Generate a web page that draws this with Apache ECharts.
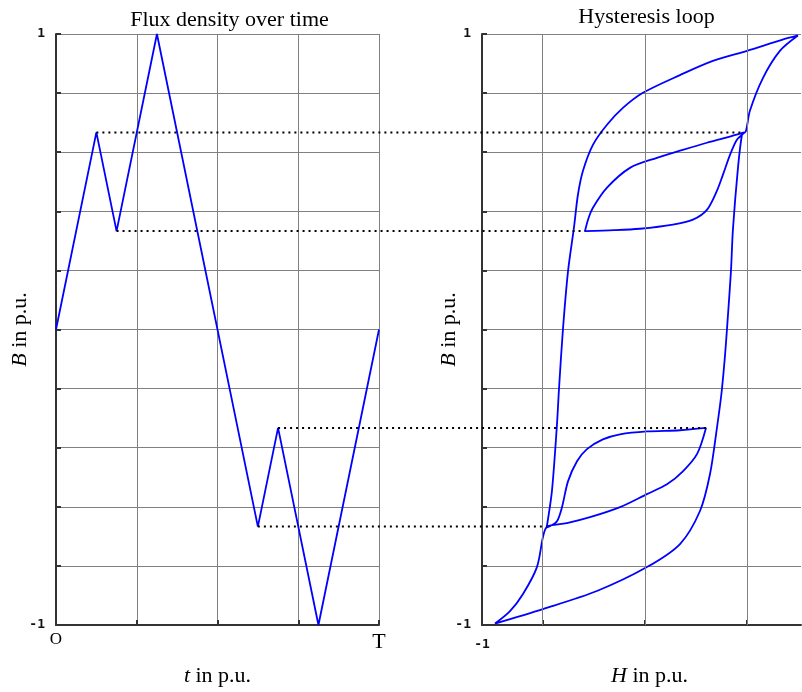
<!DOCTYPE html>
<html>
<head>
<meta charset="utf-8">
<script src="https://cdn.jsdelivr.net/npm/echarts@6/dist/echarts.min.js"></script>
<style>
  html, body { margin: 0; padding: 0; background: #fff; }
  #chart { width: 802px; height: 692px; }
</style>
</head>
<body>
<div id="chart"></div>
<script>
// flux density over time (t in p.u. of period T)
const tVals = [0, 0.125, 0.1875, 0.3125, 0.625, 0.6875, 0.8125, 1];
const bVals = [0, 0.667, 0.333, 1, -0.667, -0.333, -1, 0];

// hysteresis path, in the order the field is traversed
const hVals = [
    0.536, 0.562, 0.575, 0.608, 0.634, 0.647,
    0.536, 0.405, 0.229, 0.078, -0.098, -0.248, -0.340, -0.370, -0.392,
    -0.200, -0.033, 0.183, 0.314, 0.405, 0.471, 0.510, 0.556, 0.601, 0.641, 0.660,
    0.686, 0.771, 0.882, 1.000,
    0.895, 0.667, 0.444, 0.229, -0.013, -0.144, -0.248, -0.340, -0.405, -0.438, -0.464,
    -0.503, -0.536, -0.562, -0.575, -0.608, -0.641,
    -0.608, -0.510, -0.359, -0.163, 0.013, 0.144, 0.248, 0.340, 0.399,
    0.229, 0.013, -0.163, -0.275, -0.379, -0.444, -0.503, -0.542, -0.575, -0.621, -0.647,
    -0.667, -0.706, -0.797, -0.882, -0.980,
    -0.667, -0.314, 0.013, 0.229, 0.359, 0.425, 0.471, 0.503, 0.536
];
const hbVals = [
    0, 0.196, 0.338, 0.547, 0.659, 0.667,
    0.650, 0.632, 0.605, 0.581, 0.547, 0.480, 0.412, 0.375, 0.333,
    0.336, 0.341, 0.355, 0.372, 0.405, 0.470, 0.524, 0.591, 0.642, 0.662, 0.672,
    0.740, 0.851, 0.943, 0.995,
    0.980, 0.943, 0.909, 0.861, 0.801, 0.750, 0.693, 0.625, 0.537, 0.456, 0.345,
    0.196, 0, -0.203, -0.321, -0.547, -0.666,
    -0.662, -0.655, -0.635, -0.601, -0.557, -0.524, -0.480, -0.422, -0.333,
    -0.341, -0.345, -0.355, -0.372, -0.405, -0.446, -0.514, -0.601, -0.649, -0.666, -0.672,
    -0.703, -0.804, -0.895, -0.953, -0.995,
    -0.946, -0.885, -0.804, -0.726, -0.615, -0.490, -0.331, -0.203, 0
];

// reversal points joined by dotted lines: [t, H, B]
const linkT = [0.125, 0.1875, 0.6875, 0.625];
const linkH = [0.647, -0.392, 0.399, -0.641];
const linkB = [0.667, 0.333, -0.333, -0.667];

const hGrid = [-2 / 3, 0, 2 / 3];
const hMin = -1.065;
const hMax = 1.02;

const serif = 'Liberation Serif';
const tickFont = 'DejaVu Sans Mono';
const gridColor = '#808080';
const axisColor = '#333';
const blue = '#0000ff';

const chart = echarts.init(document.getElementById('chart'));

function nameStyle(extra) {
    const s = {
        fontFamily: serif, fontSize: 22, color: '#000',
        rich: { i: { fontFamily: serif, fontSize: 22, fontStyle: 'italic', color: '#000' } }
    };
    return Object.assign(s, extra || {});
}

function yAxisFor(gridIndex, gap) {
    return {
        type: 'value',
        gridIndex: gridIndex,
        min: -1,
        max: 1,
        interval: 0.2,
        name: '{i|B} in p.u.',
        nameLocation: 'middle',
        nameGap: gap,
        nameMoveOverlap: false,
        nameTextStyle: nameStyle(),
        axisLine: { show: true, onZero: false, lineStyle: { color: axisColor, width: 2 } },
        axisTick: { show: true, inside: true, length: 5, lineStyle: { color: axisColor, width: 2 } },
        axisLabel: {
            fontFamily: tickFont, fontSize: 13, fontWeight: 'bold', color: '#111', margin: 11,
            formatter: function (v) {
                if (Math.abs(v - 1) < 1e-6) return '1';
                if (Math.abs(v + 1) < 1e-6) return '-1';
                return '';
            }
        },
        splitLine: { show: true, lineStyle: { color: gridColor, width: 1 } }
    };
}

const option = {
    animation: false,
    backgroundColor: '#fff',
    grid: [
        { left: 56, right: 423, top: 34, bottom: 66 },
        { left: 482, right: 1, top: 34, bottom: 66 }
    ],
    xAxis: [
        {
            type: 'value',
            gridIndex: 0,
            min: 0,
            max: 1,
            interval: 0.25,
            name: '{i|t} in p.u.',
            nameLocation: 'middle',
            nameGap: 40,
            nameTextStyle: nameStyle(),
            axisLine: { show: true, onZero: false, lineStyle: { color: axisColor, width: 2 } },
            axisTick: { show: true, inside: true, length: 5, lineStyle: { color: axisColor, width: 2 } },
            axisLabel: {
                fontFamily: serif, fontSize: 22, color: '#000', margin: 6,
                formatter: function (v) {
                    if (v === 0) return '{o|O}';
                    if (v === 1) return 'T';
                    return '';
                },
                rich: { o: { fontFamily: serif, fontSize: 17, color: '#000', verticalAlign: 'bottom' } }
            },
            splitLine: { show: true, lineStyle: { color: gridColor, width: 1 } }
        },
        {
            type: 'value',
            gridIndex: 1,
            min: hMin,
            max: hMax,
            name: '{i|H} in p.u.',
            nameLocation: 'middle',
            nameGap: 40,
            nameTextStyle: nameStyle({ padding: [0, 0, 0, 16] }),
            axisLine: { show: true, onZero: false, lineStyle: { color: axisColor, width: 2 } },
            axisTick: { show: true, inside: true, length: 5, customValues: hGrid, lineStyle: { color: axisColor, width: 2 } },
            axisLabel: {
                fontFamily: tickFont, fontSize: 13, fontWeight: 'bold', color: '#111', margin: 13,
                customValues: [hMin],
                formatter: function () { return '-1'; }
            },
            splitLine: { show: false }
        }
    ],
    yAxis: [yAxisFor(0, 25), yAxisFor(1, 22)],
    series: [
        {
            type: 'line',
            xAxisIndex: 0,
            yAxisIndex: 0,
            data: tVals.map(function (t, i) { return [t, bVals[i]]; }),
            symbol: 'none',
            lineStyle: { color: blue, width: 1.8 },
            z: 3
        },
        {
            type: 'line',
            xAxisIndex: 1,
            yAxisIndex: 1,
            data: [],
            silent: true,
            z: 1,
            markLine: {
                silent: true,
                symbol: 'none',
                label: { show: false },
                lineStyle: { color: gridColor, width: 1, type: 'solid' },
                data: hGrid.map(function (h) { return { xAxis: h }; })
            }
        },
        {
            type: 'line',
            xAxisIndex: 1,
            yAxisIndex: 1,
            data: hVals.map(function (h, i) { return [h, hbVals[i]]; }),
            symbol: 'none',
            smooth: 0.3,
            smoothMonotone: 'none',
            lineStyle: { color: blue, width: 1.8 },
            z: 3
        }
    ]
};
chart.setOption(option);

// titles and the dotted links between the two panels, placed through the axes
const leftTop = chart.convertToPixel({ gridIndex: 0 }, [0.5, 1]);
const rightTop = chart.convertToPixel({ gridIndex: 1 }, [(hMin + hMax) / 2, 1]);
const graphics = [
    {
        type: 'text', x: leftTop[0] + 12, y: 20, z: 10,
        style: { text: 'Flux density over time', fontFamily: serif, fontSize: 22, fill: '#000', align: 'center', verticalAlign: 'middle' }
    },
    {
        type: 'text', x: rightTop[0] + 5, y: 17, z: 10,
        style: { text: 'Hysteresis loop', fontFamily: serif, fontSize: 22, fill: '#000', align: 'center', verticalAlign: 'middle' }
    }
];
linkT.forEach(function (t, i) {
    const p1 = chart.convertToPixel({ gridIndex: 0 }, [t, linkB[i]]);
    const p2 = chart.convertToPixel({ gridIndex: 1 }, [linkH[i], linkB[i]]);
    graphics.push({
        type: 'line',
        z: 5,
        silent: true,
        shape: { x1: p1[0], y1: p1[1], x2: p2[0], y2: p2[1] },
        style: { stroke: '#000', lineWidth: 2, lineDash: [2, 4] }
    });
});
chart.setOption({ graphic: graphics });
</script>
</body>
</html>
